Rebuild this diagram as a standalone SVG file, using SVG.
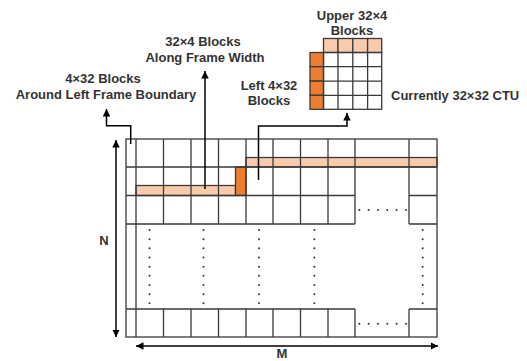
<svg xmlns="http://www.w3.org/2000/svg" width="527" height="361" viewBox="0 0 527 361">
<defs>
<style>
.t{font-family:"Liberation Sans",Arial,sans-serif;font-weight:bold;font-size:13px;fill:#333;text-anchor:middle}
.g{stroke:#3a3a3a;stroke-width:1.3;fill:none}
.lt{fill:#F8CBAD;stroke:#3a3a3a;stroke-width:1.3}
.dk{fill:#ED7D31;stroke:#3a3a3a;stroke-width:1.3}
.c{stroke:#000;stroke-width:1.5;fill:none}
.d{fill:#333}
</style>
<marker id="ah" viewBox="0 0 10 10" refX="10" refY="5" markerWidth="5" markerHeight="5" orient="auto-start-reverse"><path d="M0,0 L10,5 L0,10 z" fill="#000"/></marker>
</defs>
<rect width="527" height="361" fill="#fff"/>

<g id="frame-grid">
<rect class="lt" x="136" y="185.5" width="99.5" height="10"/>
<rect class="dk" x="235.5" y="167" width="10.5" height="28.5"/>
<rect class="lt" x="246" y="157.5" width="191" height="9.5"/>
<rect class="g" x="126" y="139" width="311" height="198"/>
<path class="g" d="M136,139V337 M163.5,139V224 M191,139V224 M218.5,139V224 M246,139V224 M273,139V224 M300.5,139V224 M328,139V224 M355,139V224 M409,139V224 M163.5,309V337 M191,309V337 M218.5,309V337 M246,309V337 M273,309V337 M300.5,309V337 M328,309V337 M355,309V337 M409,309V337 M126,167H437 M126,195.5H355 M409,195.5H437 M126,224H355 M409,224H437 M126,309H355 M409,309H437"/>
<g class="d">
<circle cx="149.5" cy="230" r="1"/><circle cx="149.5" cy="239.2" r="1"/><circle cx="149.5" cy="248.3" r="1"/><circle cx="149.5" cy="257.5" r="1"/><circle cx="149.5" cy="266.7" r="1"/><circle cx="149.5" cy="275.8" r="1"/><circle cx="149.5" cy="285" r="1"/><circle cx="149.5" cy="294.2" r="1"/><circle cx="149.5" cy="303.3" r="1"/>
<circle cx="203.5" cy="230" r="1"/><circle cx="203.5" cy="239.2" r="1"/><circle cx="203.5" cy="248.3" r="1"/><circle cx="203.5" cy="257.5" r="1"/><circle cx="203.5" cy="266.7" r="1"/><circle cx="203.5" cy="275.8" r="1"/><circle cx="203.5" cy="285" r="1"/><circle cx="203.5" cy="294.2" r="1"/><circle cx="203.5" cy="303.3" r="1"/>
<circle cx="259" cy="230" r="1"/><circle cx="259" cy="239.2" r="1"/><circle cx="259" cy="248.3" r="1"/><circle cx="259" cy="257.5" r="1"/><circle cx="259" cy="266.7" r="1"/><circle cx="259" cy="275.8" r="1"/><circle cx="259" cy="285" r="1"/><circle cx="259" cy="294.2" r="1"/><circle cx="259" cy="303.3" r="1"/>
<circle cx="314.3" cy="230" r="1"/><circle cx="314.3" cy="239.2" r="1"/><circle cx="314.3" cy="248.3" r="1"/><circle cx="314.3" cy="257.5" r="1"/><circle cx="314.3" cy="266.7" r="1"/><circle cx="314.3" cy="275.8" r="1"/><circle cx="314.3" cy="285" r="1"/><circle cx="314.3" cy="294.2" r="1"/><circle cx="314.3" cy="303.3" r="1"/>
<circle cx="422.7" cy="230" r="1"/><circle cx="422.7" cy="239.2" r="1"/><circle cx="422.7" cy="248.3" r="1"/><circle cx="422.7" cy="257.5" r="1"/><circle cx="422.7" cy="266.7" r="1"/><circle cx="422.7" cy="275.8" r="1"/><circle cx="422.7" cy="285" r="1"/><circle cx="422.7" cy="294.2" r="1"/><circle cx="422.7" cy="303.3" r="1"/>
<circle cx="359.3" cy="210" r="1"/><circle cx="368.6" cy="210" r="1"/><circle cx="378" cy="210" r="1"/><circle cx="387.3" cy="210" r="1"/><circle cx="396.6" cy="210" r="1"/><circle cx="406" cy="210" r="1"/>
<circle cx="359.3" cy="323.7" r="1"/><circle cx="368.6" cy="323.7" r="1"/><circle cx="378" cy="323.7" r="1"/><circle cx="387.3" cy="323.7" r="1"/><circle cx="396.6" cy="323.7" r="1"/><circle cx="406" cy="323.7" r="1"/>
</g>
</g>

<g id="ctu">
<rect class="lt" x="323.5" y="38.5" width="14.5" height="14"/>
<rect class="lt" x="338" y="38.5" width="14.8" height="14"/>
<rect class="lt" x="352.8" y="38.5" width="14.8" height="14"/>
<rect class="lt" x="367.6" y="38.5" width="14.1" height="14"/>
<rect class="dk" x="310" y="52.5" width="13.5" height="14.2"/>
<rect class="dk" x="310" y="66.7" width="13.5" height="14.4"/>
<rect class="dk" x="310" y="81.1" width="13.5" height="14.2"/>
<rect class="dk" x="310" y="95.3" width="13.5" height="14"/>
<rect class="g" x="323.5" y="52.5" width="58.2" height="56.8"/>
<path class="g" d="M338,52.5V109.3 M352.8,52.5V109.3 M367.6,52.5V109.3 M323.5,66.7H381.7 M323.5,81.1H381.7 M323.5,95.3H381.7"/>
</g>

<g id="labels">
<text class="t" x="203" y="46">32×4 Blocks</text>
<text class="t" x="205" y="62">Along Frame Width</text>
<text class="t" x="103" y="83">4×32 Blocks</text>
<text class="t" x="106" y="99">Around Left Frame Boundary</text>
<text class="t" x="352" y="19.5">Upper 32×4</text>
<text class="t" x="352" y="35">Blocks</text>
<text class="t" x="269" y="89.5">Left 4×32</text>
<text class="t" x="269" y="104.5">Blocks</text>
<text class="t" x="391" y="100" style="text-anchor:start">Currently 32×32 CTU</text>
<text class="t" x="104" y="245">N</text>
<text class="t" x="282" y="358">M</text>
</g>

<g id="connectors">
<path class="c" d="M130.7,144V125.7H106.5V109" marker-end="url(#ah)"/>
<path class="c" d="M205,189V71" marker-end="url(#ah)"/>
<path class="c" d="M258.5,180V126H347V113" marker-end="url(#ah)"/>
<path class="c" d="M116,140V337" marker-start="url(#ah)" marker-end="url(#ah)"/>
<path class="c" d="M136,346H438" marker-start="url(#ah)" marker-end="url(#ah)"/>
</g>
</svg>
